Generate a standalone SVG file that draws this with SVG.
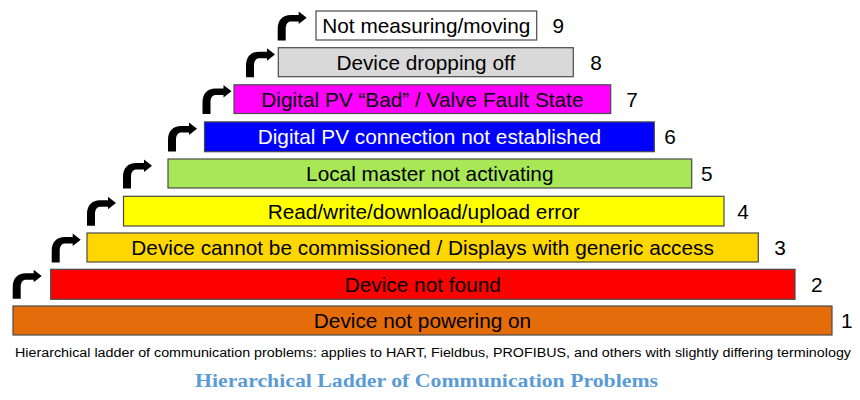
<svg xmlns="http://www.w3.org/2000/svg" xmlns:xlink="http://www.w3.org/1999/xlink" width="860" height="400" viewBox="0 0 860 400">
  <style>
    .bar { stroke: #4a4a4a; stroke-width: 1.2; }
    .lbl { font-family: "Liberation Sans", Arial, sans-serif; font-size: 20.8px; text-anchor: middle; fill: #000; }
    .num { font-family: "Liberation Sans", Arial, sans-serif; font-size: 20.8px; text-anchor: middle; fill: #000; }
    .cap { font-family: "Liberation Sans", Arial, sans-serif; font-size: 12.5px; fill: #000; }
    .title { font-family: "Liberation Serif", "Times New Roman", serif; font-size: 19.5px; font-weight: bold; fill: #5B9BD5; text-anchor: middle; }
    .arr { fill: #000; }
  </style>
  <defs>
    <path id="turn" d="M0,29.5 V18 C0,9 5,4 13,4 H21 V0.5 L29,6.8 L21,13 V10.5 H13.5 C10,10.5 8,13 8,18 V29.5 Z"/>
  </defs>
  <rect width="860" height="400" fill="#fff"/>

  <g id="connectors" class="arr">
    <use xlink:href="#turn" transform="translate(12.7,269.3)"/>
    <use xlink:href="#turn" transform="translate(51.7,233)"/>
    <use xlink:href="#turn" transform="translate(87,196.3)"/>
    <use xlink:href="#turn" transform="translate(123,159)"/>
    <use xlink:href="#turn" transform="translate(168,121.9)"/>
    <use xlink:href="#turn" transform="translate(202.5,84.5)"/>
    <use xlink:href="#turn" transform="translate(246,47.7)"/>
    <use xlink:href="#turn" transform="translate(277.7,11)"/>
  </g>

  <g id="level1">
    <rect class="bar" x="13" y="306" width="819" height="29" fill="#E46C0A" stroke="#8a4a14"/>
    <text class="lbl" x="422.5" y="328">Device not powering on</text>
    <text class="num" x="846.7" y="328">1</text>
  </g>
  <g id="level2">
    <rect class="bar" x="50.7" y="269.3" width="744.3" height="30" fill="#FF0000"/>
    <text class="lbl" x="422.8" y="291.7">Device not found</text>
    <text class="num" x="816.7" y="291.7">2</text>
  </g>
  <g id="level3">
    <rect class="bar" x="87" y="233" width="671.3" height="29" fill="#FFD700" stroke="#8a7a3a"/>
    <text class="lbl" x="422.6" y="255">Device cannot be commissioned / Displays with generic access</text>
    <text class="num" x="780" y="255">3</text>
  </g>
  <g id="level4">
    <rect class="bar" x="123.5" y="196.3" width="600.5" height="29.7" fill="#FFFF00" stroke="#8a8a6a"/>
    <text class="lbl" x="423.7" y="218.6">Read/write/download/upload error</text>
    <text class="num" x="743" y="218.6">4</text>
  </g>
  <g id="level5">
    <rect class="bar" x="168" y="159" width="523.7" height="29" fill="#A8E856"/>
    <text class="lbl" x="429.8" y="181">Local master not activating</text>
    <text class="num" x="706.7" y="181">5</text>
  </g>
  <g id="level6">
    <rect class="bar" x="204.5" y="121.9" width="449.8" height="29.8" fill="#0000FF" stroke="#6a6a7a"/>
    <text class="lbl" x="429.4" y="144.2" style="fill:#fff">Digital PV connection not established</text>
    <text class="num" x="670" y="144.2">6</text>
  </g>
  <g id="level7">
    <rect class="bar" x="234" y="84.8" width="376.7" height="28.7" fill="#FF00FF"/>
    <text class="lbl" x="422.4" y="106.6">Digital PV “Bad” / Valve Fault State</text>
    <text class="num" x="632" y="106.6">7</text>
  </g>
  <g id="level8">
    <rect class="bar" x="278.3" y="47.7" width="295" height="29" fill="#D9D9D9"/>
    <text class="lbl" x="425.8" y="69.6">Device dropping off</text>
    <text class="num" x="596" y="69.6">8</text>
  </g>
  <g id="level9">
    <rect class="bar" x="316" y="11" width="220.7" height="29" fill="#FFFFFF"/>
    <text class="lbl" x="426.3" y="33">Not measuring/moving</text>
    <text class="num" x="558.3" y="33">9</text>
  </g>

  <text class="cap" x="15" y="357" textLength="836" lengthAdjust="spacingAndGlyphs">Hierarchical ladder of communication problems: applies to HART, Fieldbus, PROFIBUS, and others with slightly differing terminology</text>
  <text class="title" x="426.5" y="387" textLength="463" lengthAdjust="spacingAndGlyphs">Hierarchical Ladder of Communication Problems</text>
</svg>
